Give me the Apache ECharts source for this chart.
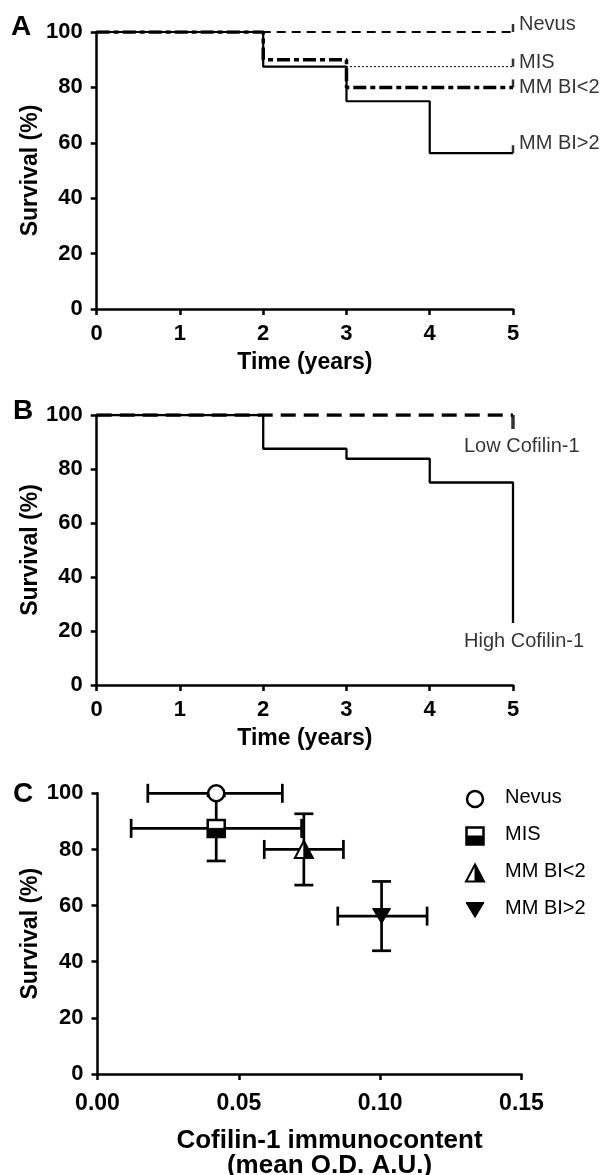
<!DOCTYPE html>
<html>
<head>
<meta charset="utf-8">
<script src="https://cdn.jsdelivr.net/npm/echarts@6/dist/echarts.min.js"></script>
<style>
html,body{margin:0;padding:0;background:#fff;}
#chart{width:605px;height:1175px;}
</style>
</head>
<body>
<div id="chart"></div>
<script>
// ---------- Panel A: Kaplan-Meier by diagnosis ----------
const nevusA   = [[0,100],[5,100]];
const misA     = [[0,100],[2,87.5],[5,87.5]];
const mmLowA   = [[0,100],[2,90],[3,80],[5,80]];
const mmHighA  = [[0,100],[2,87.5],[3,75],[4,56.25],[5,56.25]];
const namesA   = ['Nevus','MIS','MM BI<2','MM BI>2'];

// ---------- Panel B: Kaplan-Meier by Cofilin-1 ----------
const lowCofB  = [[0,100],[5,100]];
const highCofB = [[0,100],[2,87.5],[3,83.8],[4,75],[5,75],[5,23]];
const namesB   = ['Low Cofilin-1','High Cofilin-1'];

// ---------- Panel C: survival vs cofilin-1 ----------
const groupsC      = ['Nevus','MIS','MM BI<2','MM BI>2'];
const cofilinMean  = [0.042, 0.042, 0.073, 0.1005];
const cofilinLow   = [0.0178, 0.0119, 0.0590, 0.0850];
const cofilinHigh  = [0.0654, 0.0722, 0.0870, 0.1166];
const survivalMean = [100, 87.5, 80, 56.25];
const survivalLow  = [100, 75.9, 67.3, 43.9];
const survivalHigh = [100, 99.1, 92.7, 68.6];

const xTicksAB = {min:0, max:5, interval:1};
const yTicks   = {min:0, max:100, interval:20};
const xTicksC  = {min:0, max:0.15, interval:0.05};

// ---------- styling ----------
const FONT = 'Liberation Sans, Arial, Helvetica, sans-serif';
const markerKinds = ['circle','halfSquare','halfTriangle','invTriangle'];
const labelOffsetA = [[6,-8],[6,-4],[6,0],[6,-9.5]];
const labelOffsetB = [[-49,31],[-49,19]];

function axisCommon(){
  return {
    axisLine:{show:true, onZero:false, lineStyle:{color:'#000', width:2.5}},
    axisTick:{show:true, inside:false, length:6, lineStyle:{color:'#000', width:2.5}},
    splitLine:{show:false},
    axisLabel:{color:'#000', fontWeight:'bold', fontSize:22, fontFamily:FONT, margin:14},
    nameTextStyle:{color:'#000', fontWeight:'bold', fontSize:23, fontFamily:FONT},
    nameLocation:'middle',
    nameMoveOverlap:false
  };
}
function xAxisAB(grid){
  return Object.assign(axisCommon(), {type:'value', gridIndex:grid, min:xTicksAB.min, max:xTicksAB.max,
    interval:xTicksAB.interval, name:'Time (years)', nameGap:42});
}
function yAxisAll(grid){
  return Object.assign(axisCommon(), {type:'value', gridIndex:grid, min:yTicks.min, max:yTicks.max,
    interval:yTicks.interval, name:'Survival (%)', nameGap:55});
}
const xC = Object.assign(axisCommon(), {type:'value', gridIndex:2, min:xTicksC.min, max:xTicksC.max,
  interval:xTicksC.interval, name:'Cofilin-1 immunocontent\n(mean O.D. A.U.)', nameGap:54});
xC.axisLabel = Object.assign({}, xC.axisLabel, {fontSize:23, margin:18, formatter:v=>v.toFixed(2)});
xC.nameTextStyle = Object.assign({}, xC.nameTextStyle, {fontSize:26, lineHeight:25, padding:[0,0,0,40]});

function kmLine(data, grid, style){
  return {type:'line', xAxisIndex:grid, yAxisIndex:grid, step:'end', data:data, symbol:'none',
    lineStyle:Object.assign({color:'#000', cap:'butt'}, style), silent:true, animation:false};
}
function lastPoint(d){ return d[d.length-1]; }

function markerEls(kind, cx, cy){
  const st = {fill:'#fff', stroke:'#000', lineWidth:2.5};
  if(kind==='circle') return [{type:'circle', shape:{cx:cx, cy:cy, r:8}, style:st}];
  if(kind==='halfSquare'){ const s=8.5; return [
    {type:'rect', shape:{x:cx-s, y:cy-s, width:2*s, height:2*s}, style:st},
    {type:'rect', shape:{x:cx-s, y:cy, width:2*s, height:s}, style:{fill:'#000', stroke:'#000', lineWidth:1}}]; }
  if(kind==='halfTriangle'){ const w=9, h=8.5; return [
    {type:'polygon', shape:{points:[[cx,cy-h],[cx-w,cy+h],[cx+w,cy+h]]}, style:Object.assign({}, st, {lineWidth:2})},
    {type:'polygon', shape:{points:[[cx,cy-h],[cx+w,cy+h],[cx,cy+h]]}, style:{fill:'#000', stroke:'#000', lineWidth:1}}]; }
  const w=9, h=7.5;
  return [{type:'polygon', shape:{points:[[cx-w,cy-h],[cx+w,cy-h],[cx,cy+h]]}, style:{fill:'#000', stroke:'#000', lineWidth:1}}];
}

const rowsC = groupsC.map((g,i)=>[cofilinMean[i], survivalMean[i], cofilinLow[i], cofilinHigh[i], survivalLow[i], survivalHigh[i]]);

const series = [
  kmLine(nevusA, 0, {width:2, type:[9,6]}),
  kmLine(mmLowA, 0, {width:3.5, type:[13,4,5,4]}),
  kmLine(misA, 0, {width:1, type:[2,2]}),
  kmLine(mmHighA, 0, {width:2.2}),
  {
    type:'scatter', xAxisIndex:0, yAxisIndex:0, animation:false, silent:true,
    symbol:'rect', symbolSize:[2.5,8], symbolOffset:[0,-4], itemStyle:{color:'#000'},
    data:[nevusA, misA, mmLowA, mmHighA].map((d,i)=>({value:lastPoint(d), name:namesA[i],
      label:{show:true, formatter:namesA[i], position:[labelOffsetA[i][0]+1.25, labelOffsetA[i][1]+8], align:'left', verticalAlign:'middle',
        color:'#000', fontSize:20, fontFamily:FONT}}))
  },
  kmLine(lowCofB, 1, {width:3.5, type:[15,8]}),
  kmLine(highCofB, 1, {width:2.3}),
  {
    type:'scatter', xAxisIndex:1, yAxisIndex:1, animation:false, silent:true,
    symbol:'rect', symbolSize:[3.5,14], symbolOffset:[0,7], itemStyle:{color:'#000'},
    data:[{value:lastPoint(lowCofB)}]
  },
  {
    type:'scatter', xAxisIndex:1, yAxisIndex:1, animation:false, silent:true, symbolSize:0,
    data:[lowCofB, highCofB].map((d,i)=>({value:lastPoint(d), name:namesB[i],
      label:{show:true, formatter:namesB[i], position:labelOffsetB[i], align:'left', verticalAlign:'middle',
        color:'#000', fontSize:20, fontFamily:FONT}}))
  },
  {
    type:'custom', xAxisIndex:2, yAxisIndex:2, animation:false, silent:true, z:2,
    data:rowsC, encode:{x:0, y:1},
    renderItem:function(params, api){
      const x=api.value(0), y=api.value(1), xl=api.value(2), xh=api.value(3), yl=api.value(4), yh=api.value(5);
      const st={stroke:'#000', lineWidth:2.7, fill:null};
      const c=9.5;
      const a=api.coord([xl,y]), b=api.coord([xh,y]);
      const ch=[
        {type:'line', shape:{x1:a[0],y1:a[1],x2:b[0],y2:b[1]}, style:st},
        {type:'line', shape:{x1:a[0],y1:a[1]-c,x2:a[0],y2:a[1]+c}, style:st},
        {type:'line', shape:{x1:b[0],y1:b[1]-c,x2:b[0],y2:b[1]+c}, style:st}
      ];
      if(yh>yl){
        const p=api.coord([x,yl]), q=api.coord([x,yh]);
        ch.push({type:'line', shape:{x1:p[0],y1:p[1],x2:q[0],y2:q[1]}, style:st});
        ch.push({type:'line', shape:{x1:p[0]-c,y1:p[1],x2:p[0]+c,y2:p[1]}, style:st});
        ch.push({type:'line', shape:{x1:q[0]-c,y1:q[1],x2:q[0]+c,y2:q[1]}, style:st});
      }
      return {type:'group', children:ch};
    }
  },
  {
    type:'custom', xAxisIndex:2, yAxisIndex:2, animation:false, silent:true, z:5,
    data:rowsC, encode:{x:0, y:1},
    renderItem:function(params, api){
      const p=api.coord([api.value(0), api.value(1)]);
      return {type:'group', children:markerEls(markerKinds[params.dataIndex], p[0], p[1])};
    }
  }
];

const legendRowsY = [799, 836, 873, 910];
const legendGraphic = [];
groupsC.forEach((g,i)=>{
  legendGraphic.push({type:'group', silent:true, children:markerEls(markerKinds[i], 475, legendRowsY[i])});
  legendGraphic.push({type:'text', left:505, top:legendRowsY[i]-12, silent:true,
    style:{text:g, fill:'#000', fontSize:20, fontFamily:FONT, verticalAlign:'top'}});
});
const panelLetters = [['A',11,13],['B',13,397],['C',13,780]].map(l=>({type:'text', left:l[1], top:l[2], silent:true,
  style:{text:l[0], fill:'#000', fontSize:28, fontWeight:'bold', fontFamily:FONT}}));

const option = {
  backgroundColor:'#fff',
  animation:false,
  grid:[
    {left:96.7, top:32, width:416.3, height:277, outerBoundsMode:'none', containLabel:false},
    {left:96.7, top:415, width:416.3, height:270, outerBoundsMode:'none', containLabel:false},
    {left:97.5, top:793.3, width:424, height:280.7, outerBoundsMode:'none', containLabel:false}
  ],
  xAxis:[xAxisAB(0), xAxisAB(1), xC],
  yAxis:[yAxisAll(0), yAxisAll(1), yAxisAll(2)],
  series:series,
  graphic:legendGraphic.concat(panelLetters)
};
const chart = echarts.init(document.getElementById('chart'), null, {renderer:'canvas'});
chart.setOption(option);
</script>
</body>
</html>
